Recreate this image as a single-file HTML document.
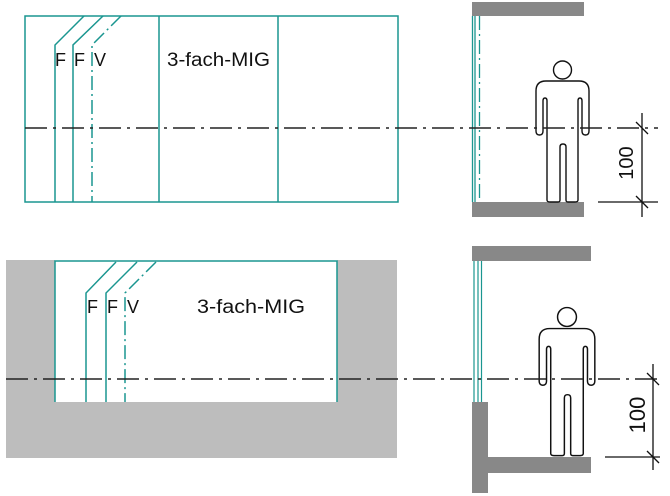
<!DOCTYPE html>
<html><head><meta charset="utf-8"><style>
html,body{margin:0;padding:0;background:#fff;}
svg{display:block;}
text{font-family:"Liberation Sans",sans-serif;fill:#111;}
</style></head><body>
<svg width="670" height="496" viewBox="0 0 670 496" xmlns="http://www.w3.org/2000/svg">
<defs>
<g id="person">
<circle cx="562.5" cy="70" r="9" fill="#fff" stroke="#111" stroke-width="1.4"/>
<path d="M546,81 H579 Q589,81 589,91 V131 Q589,135 585.5,135 Q582,135 582,131 V101 Q582,98 580,98 Q578,98 578,101 V200 Q578,202 575,202 H568 Q566,202 566,200 V147 Q566,144 563,144 Q560,144 560,147 V200 Q560,202 558,202 H550 Q547,202 547,200 V101 Q547,98 545,98 Q543,98 543,101 V131 Q543,135 539.5,135 Q536,135 536,131 V91 Q536,81 546,81 Z" fill="#fff" stroke="#111" stroke-width="1.4"/>
</g>
</defs>

<!-- TOP LEFT -->
<g fill="none" stroke="#1a9690" stroke-width="1.5">
<rect x="25" y="16" width="373" height="186"/>
<line x1="159" y1="16" x2="159" y2="202"/>
<line x1="278" y1="16" x2="278" y2="202"/>
<polyline points="84,16 55,45 55,202"/>
<polyline points="103,16 73,45 73,202"/>
<polyline points="121,16 92,45 92,202" stroke-dasharray="14,4,2,4"/>
</g>
<text x="55" y="66" font-size="18">F</text>
<text x="74" y="66" font-size="18">F</text>
<text x="94" y="66" font-size="18">V</text>
<text x="167" y="66" font-size="19" textLength="103" lengthAdjust="spacingAndGlyphs">3-fach-MIG</text>

<!-- TOP RIGHT -->
<rect x="472" y="2" width="112" height="14" fill="#888"/>
<rect x="472" y="202" width="112" height="15" fill="#888"/>
<line x1="472.5" y1="16" x2="472.5" y2="202" stroke="#1a9690" stroke-width="1.3"/>
<line x1="475" y1="16" x2="475" y2="202" stroke="#1a9690" stroke-width="1.3"/>
<line x1="479.5" y1="16" x2="479.5" y2="202" stroke="#1a9690" stroke-width="1.3" stroke-dasharray="14,4,2,4"/>
<use href="#person"/>
<line x1="25" y1="128" x2="658" y2="128" stroke="#222" stroke-width="1.5" stroke-dasharray="22,6,3,6"/>
<g stroke="#111" stroke-width="1.3">
<line x1="598" y1="202" x2="658" y2="202"/>
<line x1="642" y1="113" x2="642" y2="217"/>
<line x1="636" y1="122" x2="648" y2="134"/>
<line x1="636" y1="196" x2="648" y2="208"/>
</g>
<text transform="translate(633,163) rotate(-90)" text-anchor="middle" font-size="20">100</text>

<!-- BOTTOM LEFT -->
<rect x="6" y="260" width="391" height="198" fill="#bdbdbd"/>
<rect x="55" y="260" width="282" height="142" fill="#fff"/>
<g fill="none" stroke="#1a9690" stroke-width="1.5">
<polyline points="55,402 55,261 337,261 337,402"/>
<polyline points="116,262 86,293 86,402"/>
<polyline points="137,262 106,293 106,402"/>
<polyline points="156,262 125,293 125,402" stroke-dasharray="14,4,2,4"/>
</g>
<text x="87" y="313" font-size="18">F</text>
<text x="107" y="313" font-size="18">F</text>
<text x="127" y="313" font-size="18">V</text>
<text x="197" y="313" font-size="19" textLength="108" lengthAdjust="spacingAndGlyphs">3-fach-MIG</text>

<!-- BOTTOM RIGHT -->
<rect x="472" y="246" width="119" height="15" fill="#888"/>
<rect x="472" y="402" width="16" height="91" fill="#888"/>
<rect x="488" y="457" width="103" height="16" fill="#888"/>
<line x1="474" y1="261" x2="474" y2="402" stroke="#1a9690" stroke-width="1.2"/>
<line x1="478" y1="261" x2="478" y2="402" stroke="#1a9690" stroke-width="1.2"/>
<line x1="481.5" y1="261" x2="481.5" y2="402" stroke="#1a9690" stroke-width="1.2"/>
<g transform="translate(567,317) scale(1.05) translate(-562.5,-70)"><use href="#person"/></g>
<line x1="6" y1="379" x2="660" y2="379" stroke="#222" stroke-width="1.5" stroke-dasharray="22,6,3,6"/>
<g stroke="#111" stroke-width="1.3">
<line x1="605" y1="457" x2="660" y2="457"/>
<line x1="653" y1="364" x2="653" y2="470"/>
<line x1="647" y1="373" x2="659" y2="385"/>
<line x1="647" y1="451" x2="659" y2="463"/>
</g>
<text transform="translate(645,415) rotate(-90)" text-anchor="middle" font-size="22">100</text>
</svg>
</body></html>
